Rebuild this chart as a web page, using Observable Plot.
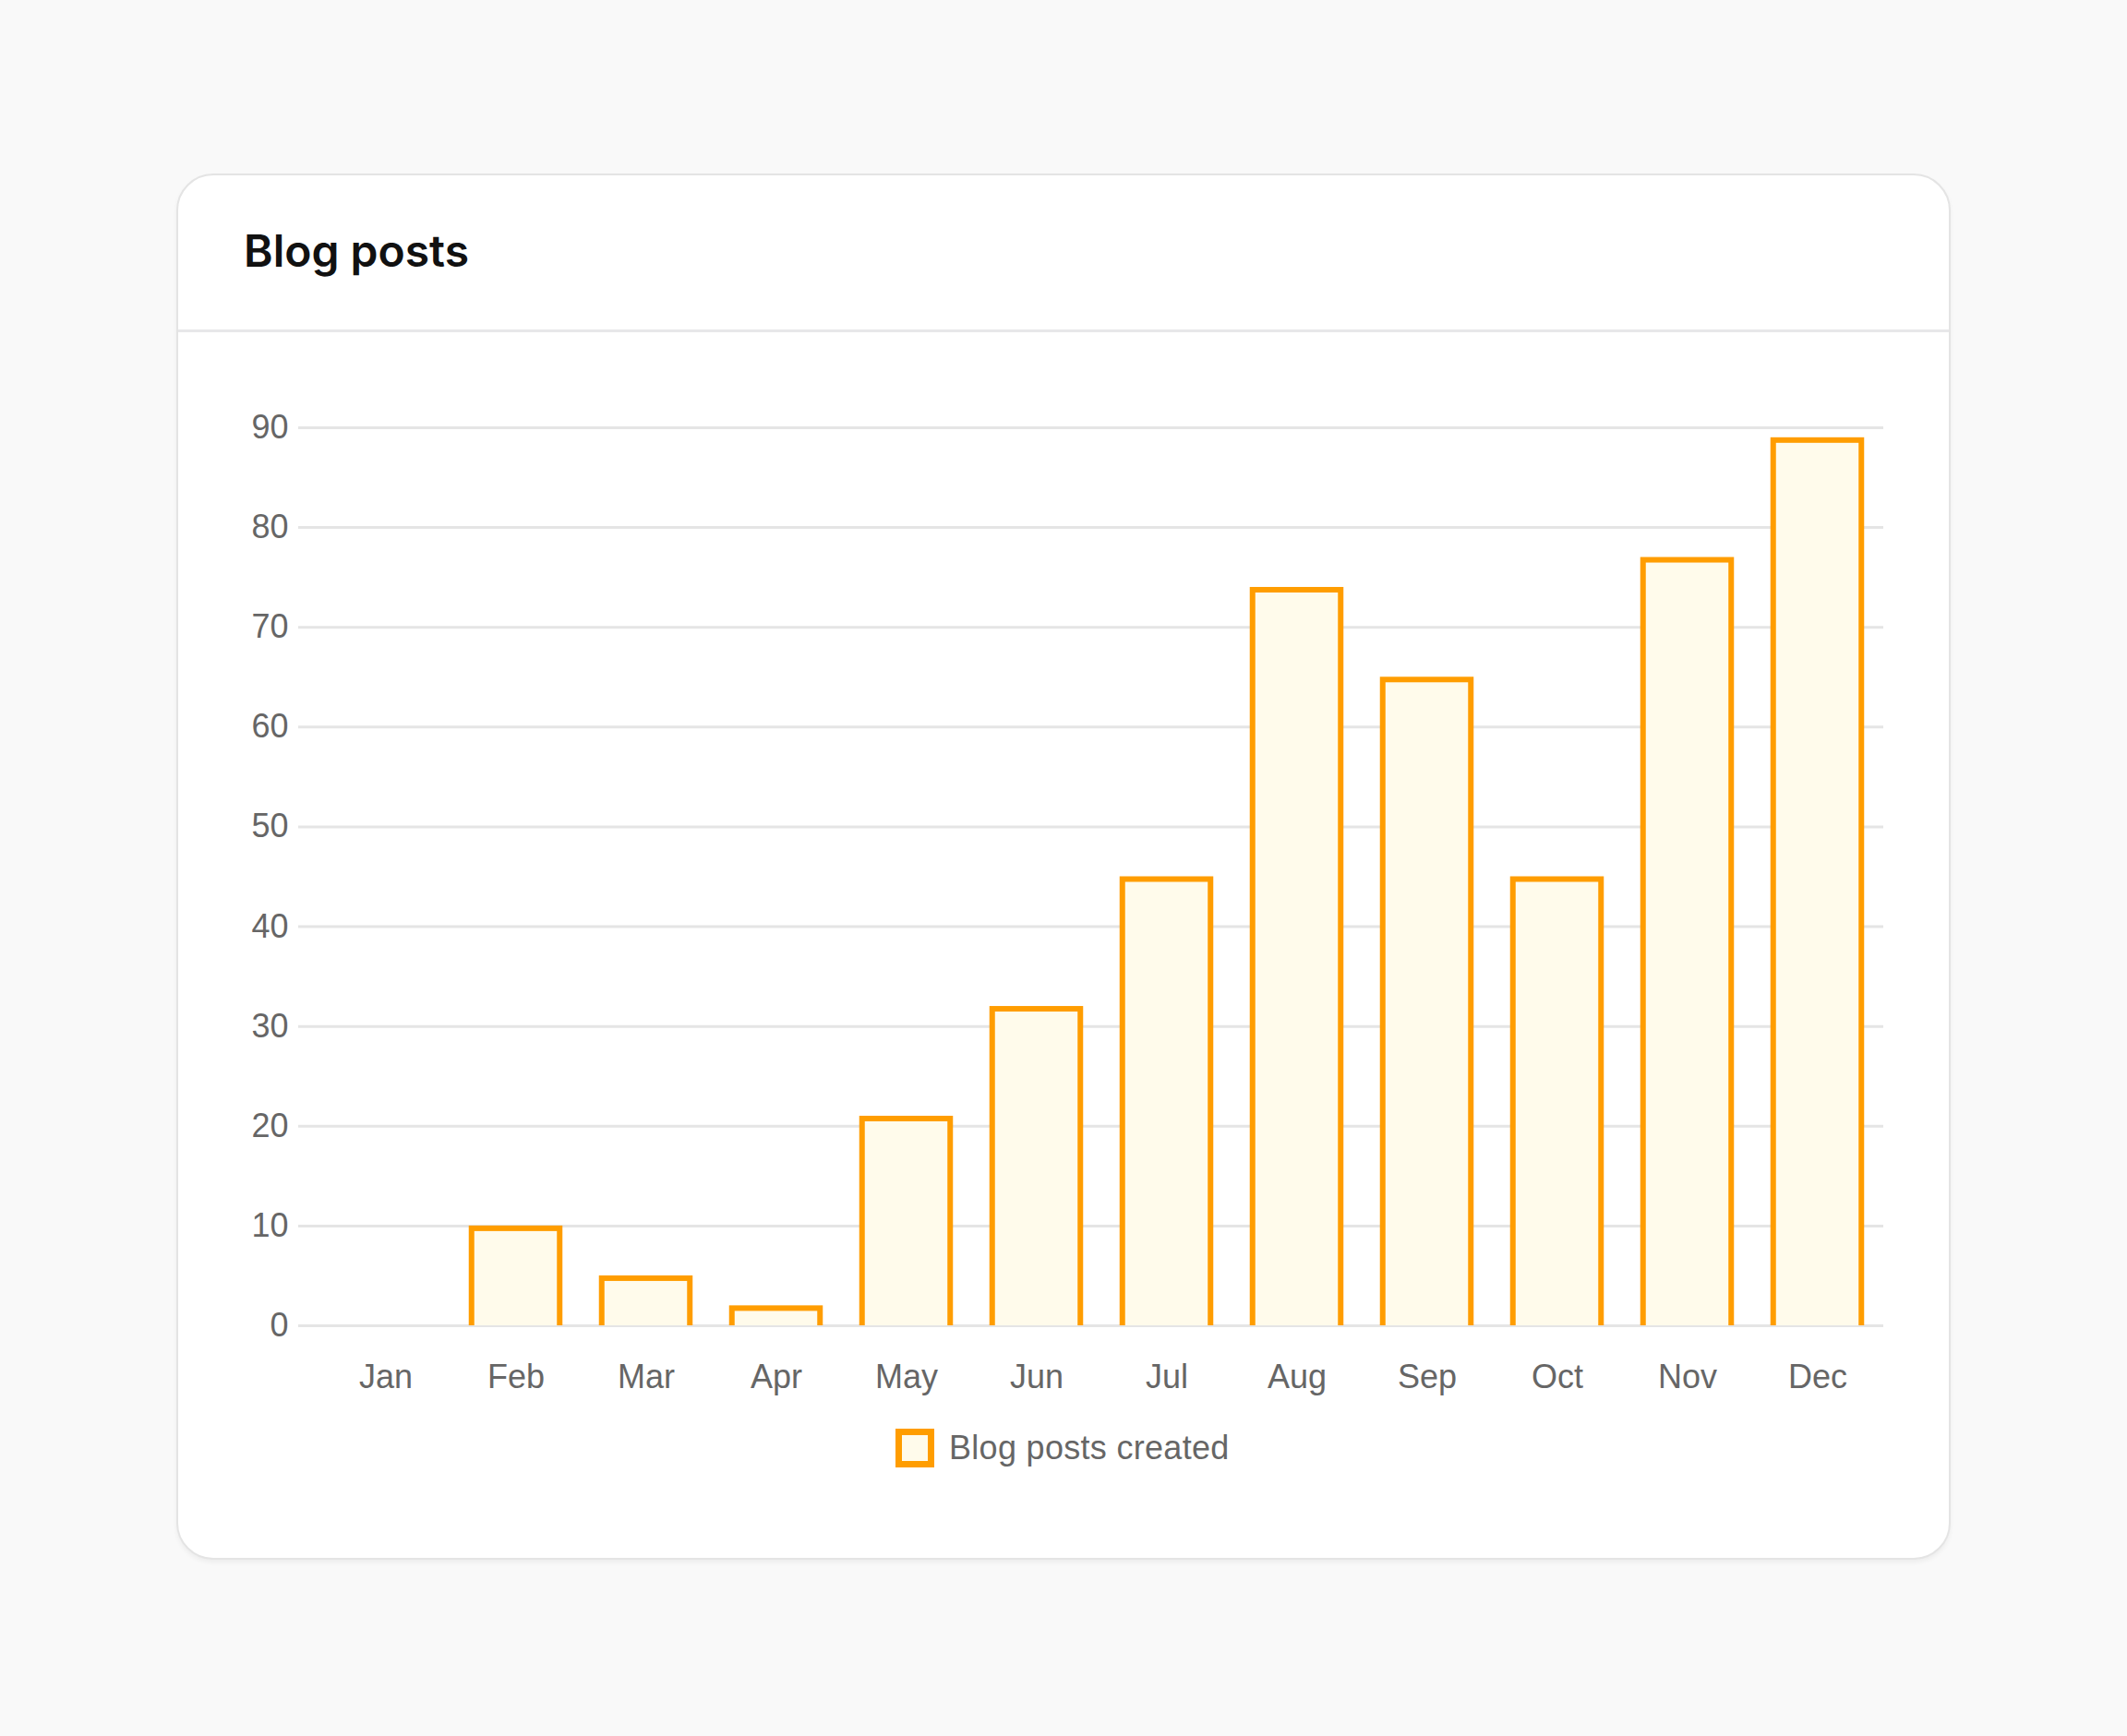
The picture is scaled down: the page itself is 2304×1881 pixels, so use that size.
<!DOCTYPE html>
<html>
<head>
<meta charset="utf-8">
<script src="https://cdn.jsdelivr.net/npm/d3@7"></script>
<script src="https://cdn.jsdelivr.net/npm/@observablehq/plot@0.6"></script>
<style>
  html, body { margin: 0; padding: 0; }
  body { width: 2304px; height: 1881px; background: #f9f9f9; position: relative; overflow: hidden; }
  #card { position: absolute; left: 191px; top: 188px; width: 1922px; height: 1502px; box-sizing: border-box;
          background: #fff; border: 2px solid #e4e4e4; border-radius: 40px; box-shadow: 0 3px 5px rgba(0,0,0,0.05); }
  #title { position: absolute; left: 71px; top: 58px; margin: 0; font-family: Inter, "Noto Sans", sans-serif;
           font-weight: 600; font-size: 48px; line-height: 48px; color: #111; }
  #divider { position: absolute; left: 0; right: 0; top: 167px; height: 3px; background: #e7e7e9; }
  #chart { position: absolute; left: 191px; top: 360px; }
  #legend { position: absolute; left: 970px; top: 1548px; display: flex; align-items: center; gap: 16px;
            font-family: "Liberation Sans", Arial, Helvetica, sans-serif; font-size: 36px; line-height: 42px; color: #666;
            letter-spacing: 0.3px; }
  #legend .box { width: 42px; height: 42px; box-sizing: border-box; border: 7px solid #ff9d00; background: #fffbeb; }
</style>
</head>
<body>
<div id="card">
  <h1 id="title">Blog posts</h1>
  <div id="divider"></div>
</div>
<div id="chart"></div>
<div id="legend"><div class="box"></div><span id="legendLabel"></span></div>
<script>
const months = ["Jan", "Feb", "Mar", "Apr", "May", "Jun", "Jul", "Aug", "Sep", "Oct", "Nov", "Dec"];
const posts = [0, 10, 5, 2, 21, 32, 45, 74, 65, 45, 77, 89];
const yTicks = [0, 10, 20, 30, 40, 50, 60, 70, 80, 90];
const seriesName = "Blog posts created";

const data = months.map((m, i) => ({month: m, value: posts[i]}));

const chart = Plot.plot({
  width: 1922,
  height: 1180,
  marginLeft: 154,
  marginRight: 73,
  marginTop: 103,
  marginBottom: 104,
  style: {
    fontFamily: "'Liberation Sans', Arial, Helvetica, sans-serif",
    fontSize: "36px",
    color: "#666",
    background: "transparent",
    overflow: "visible"
  },
  x: {domain: months, padding: 0, label: null, tickSize: 0, tickPadding: 42},
  y: {domain: [0, 90], ticks: yTicks, label: null, tickSize: 0, tickPadding: 33},
  marks: [
    Plot.ruleY(yTicks, {stroke: "#e5e5e5", strokeWidth: 3, insetLeft: -22}),
    Plot.barY(data, {
      x: "month", y: "value",
      fill: "#fffbeb", stroke: "#ff9d00", strokeWidth: 6,
      insetLeft: 22.75, insetRight: 22.75, insetTop: 3, insetBottom: -6,
      clip: true
    })
  ]
});
document.getElementById("chart").appendChild(chart);
document.getElementById("legendLabel").textContent = seriesName;
</script>
</body>
</html>
